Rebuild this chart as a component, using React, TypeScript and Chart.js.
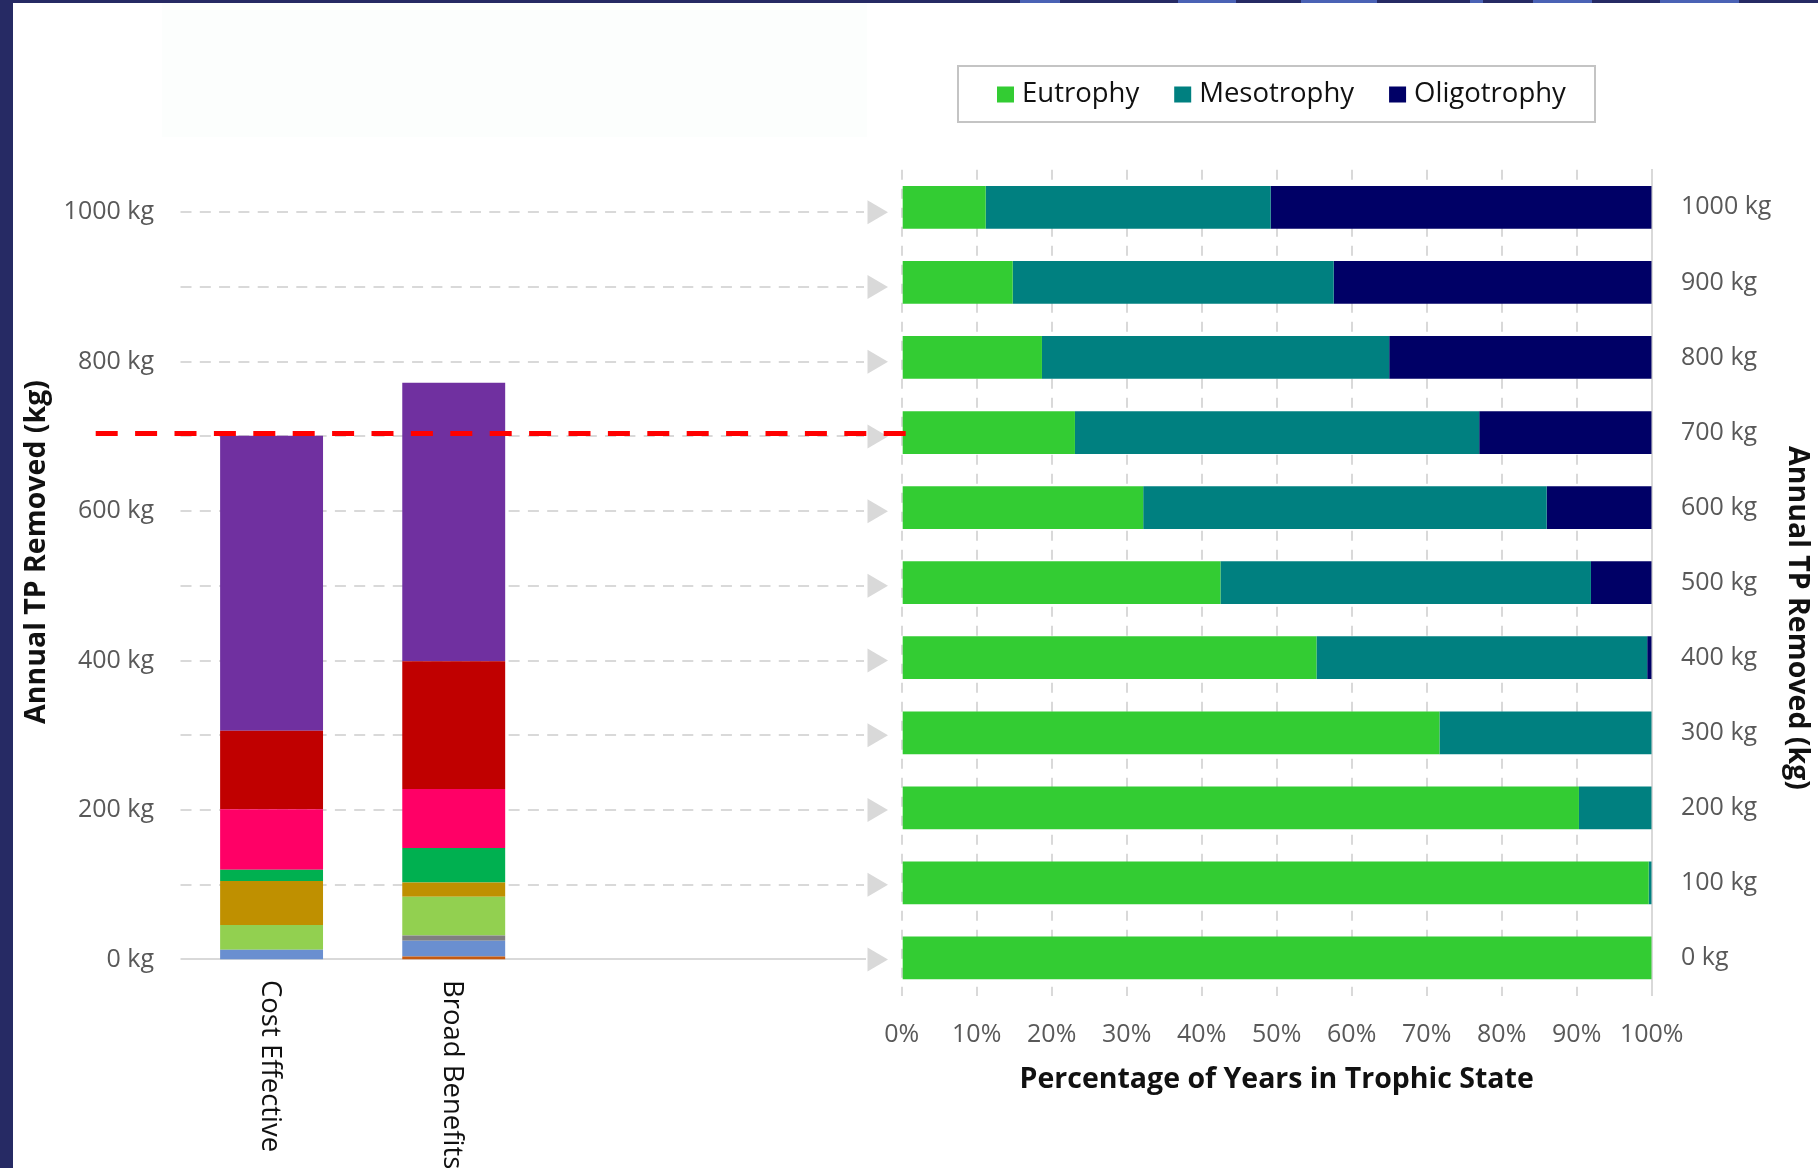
import { useEffect, useRef } from 'react';
import { Chart, registerables } from 'chart.js';

Chart.register(...registerables);

// ---- Left panel: annual TP removed by plan, stacked by component ----
const PLANS = ['Cost Effective', 'Broad Benefits'];
const SEGMENT_NAMES = ['Brown', 'Blue', 'Grey', 'Light green', 'Gold', 'Green', 'Pink', 'Red', 'Purple'];
const SEGMENT_COLORS = ['#C55A11', '#6A8FD0', '#808080', '#92D050', '#BF9000', '#00B050', '#FF0066', '#C00000', '#7030A0'];
const COST_EFFECTIVE = [0, 13, 0, 33, 59, 15, 81, 105, 395];
const BROAD_BENEFITS = [4, 21, 7, 52, 19, 46, 79, 171, 373];
const TARGET_LOAD = 704;
const LOAD_TICKS = [0, 100, 200, 300, 400, 500, 600, 700, 800, 900, 1000];

// ---- Right panel: share of years in each trophic state per removal level ----
const STATES = ['Eutrophy', 'Mesotrophy', 'Oligotrophy'];
const STATE_COLORS = ['#33CC33', '#008080', '#000066'];
const LOAD_LEVELS = [1000, 900, 800, 700, 600, 500, 400, 300, 200, 100, 0];
const EUTROPHY = [11.2, 14.8, 18.7, 23.1, 32.2, 42.5, 55.3, 71.7, 90.3, 99.6, 100];
const MESOTROPHY = [38.0, 42.8, 46.3, 53.9, 53.8, 49.4, 44.1, 28.3, 9.7, 0.4, 0];
const OLIGOTROPHY = [50.8, 42.4, 35.0, 23.0, 14.0, 8.1, 0.6, 0, 0, 0, 0];
const PERCENT_TICKS = [0, 10, 20, 30, 40, 50, 60, 70, 80, 90, 100];

const FONT = "'Open Sans', sans-serif";
const TICK_COLOR = '#595959';
const GRID_COLOR = '#D9D9D9';
const TEXT_COLOR = '#111111';
const TICK_SIZE = 25;
const TITLE_FONT = `bold 28.5px ${FONT}`;

const W = 1818;
const H = 1168;
const LEFT_W = 920;
const RIGHT_X = 880;
const RIGHT_W = W - RIGHT_X;

// left plot geometry
const L_AREA_LEFT = 180.5;
const L_AREA_RIGHT = 544.8;
const L_AREA_TOP = 212.3;
const L_AREA_BOTTOM = 959.4;
const GRID_END = 864;
const ARROW_X0 = 867.5;
const ARROW_X1 = 888;
const ARROW_HALF = 12;
const TARGET_X0 = 95.7;
const TARGET_X1 = 905.7;

// right plot geometry (canvas coordinates)
const R_AREA_LEFT = 901.7 - RIGHT_X;
const R_AREA_RIGHT = 1651.7 - RIGHT_X;
const R_AREA_TOP = 169.8;
const R_AREA_BOTTOM = 995.5;

const leftDecor = {
  id: 'leftDecor',
  beforeDatasetsDraw(chart: any) {
    const { ctx } = chart;
    const y = chart.scales.y;
    ctx.save();
    ctx.strokeStyle = GRID_COLOR;
    ctx.lineWidth = 2;
    LOAD_TICKS.forEach((v) => {
      const py = Math.round(y.getPixelForValue(v));
      ctx.beginPath();
      if (v === 0) {
        ctx.setLineDash([]);
        ctx.moveTo(L_AREA_LEFT, py);
        ctx.lineTo(GRID_END + 2, py);
      } else {
        ctx.setLineDash([11, 8.3]);
        ctx.moveTo(L_AREA_LEFT, py);
        ctx.lineTo(GRID_END, py);
      }
      ctx.stroke();
    });
    ctx.restore();
  },
  afterDraw(chart: any) {
    const { ctx } = chart;
    const x = chart.scales.x;
    const y = chart.scales.y;
    ctx.save();
    // arrowheads pointing to the matching rows on the right
    ctx.fillStyle = GRID_COLOR;
    LOAD_TICKS.forEach((v) => {
      const py = y.getPixelForValue(v);
      ctx.beginPath();
      ctx.moveTo(ARROW_X0, py - ARROW_HALF);
      ctx.lineTo(ARROW_X1, py);
      ctx.lineTo(ARROW_X0, py + ARROW_HALF);
      ctx.closePath();
      ctx.fill();
    });
    // target load line
    const ty = y.getPixelForValue(TARGET_LOAD);
    ctx.strokeStyle = '#FF0000';
    ctx.lineWidth = 5;
    ctx.setLineDash([22, 17.4]);
    ctx.beginPath();
    ctx.moveTo(TARGET_X0, ty);
    ctx.lineTo(TARGET_X1, ty);
    ctx.stroke();
    ctx.setLineDash([]);
    // category labels, rotated to read downward
    ctx.fillStyle = TEXT_COLOR;
    ctx.font = `27.5px ${FONT}`;
    ctx.textAlign = 'left';
    ctx.textBaseline = 'middle';
    PLANS.forEach((label, i) => {
      ctx.save();
      ctx.translate(x.getPixelForValue(i) - 2, 980);
      ctx.rotate(Math.PI / 2);
      ctx.fillText(label, 0, 0);
      ctx.restore();
    });
    // axis title
    ctx.font = TITLE_FONT;
    ctx.textAlign = 'center';
    ctx.save();
    ctx.translate(37, 552);
    ctx.rotate(-Math.PI / 2);
    ctx.fillText('Annual TP Removed (kg)', 0, 0);
    ctx.restore();
    ctx.restore();
  },
};

const rightDecor = {
  id: 'rightDecor',
  afterDraw(chart: any) {
    const { ctx, chartArea } = chart;
    ctx.save();
    // legend
    const bx = 958 - RIGHT_X;
    const by = 66;
    ctx.strokeStyle = '#C4C4C4';
    ctx.lineWidth = 2;
    ctx.strokeRect(bx, by, 637, 56);
    ctx.font = `27.5px ${FONT}`;
    ctx.textBaseline = 'middle';
    ctx.textAlign = 'left';
    let lx = 997 - RIGHT_X;
    const ly = 94.5;
    chart.data.datasets.forEach((ds: any) => {
      ctx.fillStyle = ds.backgroundColor;
      ctx.fillRect(lx, ly - 8, 17, 16);
      ctx.fillStyle = TEXT_COLOR;
      ctx.fillText(ds.label, lx + 25, ly);
      lx += 25 + ctx.measureText(ds.label).width + 35;
    });
    // axis titles
    ctx.fillStyle = TEXT_COLOR;
    ctx.font = TITLE_FONT;
    ctx.textAlign = 'center';
    ctx.fillText('Percentage of Years in Trophic State', (chartArea.left + chartArea.right) / 2, 1080);
    ctx.save();
    ctx.translate(1797 - RIGHT_X, 618);
    ctx.rotate(Math.PI / 2);
    ctx.fillText('Annual TP Removed (kg)', 0, 0);
    ctx.restore();
    ctx.restore();
  },
};

function leftConfig(): any {
  return {
    type: 'bar',
    data: {
      labels: PLANS,
      datasets: SEGMENT_NAMES.map((name, i) => ({
        label: name,
        data: [COST_EFFECTIVE[i], BROAD_BENEFITS[i]],
        backgroundColor: SEGMENT_COLORS[i],
        borderWidth: 0,
        barPercentage: 0.565,
        categoryPercentage: 1,
      })),
    },
    options: {
      responsive: false,
      animation: false,
      events: [],
      layout: { padding: { left: 0, right: LEFT_W - L_AREA_RIGHT, top: L_AREA_TOP, bottom: 0 } },
      plugins: { legend: { display: false }, tooltip: { enabled: false } },
      scales: {
        x: {
          stacked: true,
          grid: { display: false, drawTicks: false },
          border: { display: false },
          ticks: { display: false },
          afterFit: (s: any) => {
            s.height = H - L_AREA_BOTTOM;
            s.paddingLeft = 0;
            s.paddingRight = 0;
          },
        },
        y: {
          stacked: true,
          min: 0,
          max: 1000,
          afterBuildTicks: (s: any) => { s.ticks = LOAD_TICKS.map((v) => ({ value: v })); },
          ticks: {
            padding: 26.5,
            color: TICK_COLOR,
            font: { family: FONT, size: TICK_SIZE },
            callback: (v: number) => (v % 200 === 0 ? `${v} kg` : ''),
          },
          grid: { display: false, drawTicks: false },
          border: { display: false },
          afterFit: (s: any) => { s.width = L_AREA_LEFT; },
        },
      },
    },
    plugins: [leftDecor],
  };
}

function rightConfig(): any {
  const series = [EUTROPHY, MESOTROPHY, OLIGOTROPHY];
  return {
    type: 'bar',
    data: {
      labels: LOAD_LEVELS.map((v) => `${v} kg`),
      datasets: STATES.map((name, i) => ({
        label: name,
        data: series[i],
        backgroundColor: STATE_COLORS[i],
        borderWidth: 0,
        barPercentage: 0.57,
        categoryPercentage: 1,
      })),
    },
    options: {
      indexAxis: 'y',
      responsive: false,
      animation: false,
      events: [],
      layout: { padding: { left: R_AREA_LEFT, right: 0, top: R_AREA_TOP, bottom: 0 } },
      plugins: { legend: { display: false }, tooltip: { enabled: false } },
      scales: {
        x: {
          stacked: true,
          min: 0,
          max: 100,
          afterBuildTicks: (s: any) => { s.ticks = PERCENT_TICKS.map((v) => ({ value: v })); },
          ticks: {
            padding: 24,
            color: TICK_COLOR,
            font: { family: FONT, size: TICK_SIZE },
            maxRotation: 0,
            autoSkip: false,
            callback: (v: number) => `${v}%`,
          },
          grid: { color: GRID_COLOR, lineWidth: 2, drawTicks: false },
          border: { display: false, dash: [10, 9] },
          afterFit: (s: any) => {
            s.height = H - R_AREA_BOTTOM;
            s.paddingLeft = 0;
            s.paddingRight = 0;
          },
        },
        y: {
          stacked: true,
          position: 'right',
          ticks: {
            padding: 29.3,
            color: TICK_COLOR,
            font: { family: FONT, size: TICK_SIZE },
          },
          grid: { display: false, drawTicks: false },
          border: { display: true, color: GRID_COLOR, width: 2 },
          afterFit: (s: any) => {
            s.width = RIGHT_W - R_AREA_RIGHT;
            s.paddingTop = 0;
            s.paddingBottom = 0;
          },
        },
      },
    },
    plugins: [rightDecor],
  };
}

export default function App() {
  const leftRef = useRef<HTMLCanvasElement>(null);
  const rightRef = useRef<HTMLCanvasElement>(null);

  useEffect(() => {
    const right = new Chart(rightRef.current as HTMLCanvasElement, rightConfig());
    const left = new Chart(leftRef.current as HTMLCanvasElement, leftConfig());
    return () => {
      left.destroy();
      right.destroy();
    };
  }, []);

  return (
    <div style={{ position: 'absolute', left: 0, top: 0, width: W, height: H, background: '#FFFFFF', overflow: 'hidden' }}>
      <div style={{ position: 'absolute', left: 162, top: 3, width: 705, height: 134, background: '#FCFEFD' }} />
      <div style={{ position: 'absolute', left: 0, top: 0, width: W, height: 3, background: '#262A64' }} />
      <div
        style={{
          position: 'absolute',
          left: 1000,
          top: 0,
          width: W - 1000,
          height: 3,
          background:
            'linear-gradient(90deg, #262A64 0 20px, #4A62B5 20px 60px, #262A64 60px 178px, #4A62B5 178px 236px, #262A64 236px 301px, #4A62B5 301px 377px, #262A64 377px 470px, #4A62B5 470px 483px, #262A64 483px 533px, #4A62B5 533px 592px, #262A64 592px 660px, #4A62B5 660px 739px, #262A64 739px)',
        }}
      />
      <div style={{ position: 'absolute', left: 0, top: 0, width: 13, height: H, background: '#262A64' }} />
      <canvas
        ref={rightRef}
        width={RIGHT_W}
        height={H}
        style={{ position: 'absolute', left: RIGHT_X, top: 0, width: RIGHT_W, height: H }}
      />
      <canvas
        ref={leftRef}
        width={LEFT_W}
        height={H}
        style={{ position: 'absolute', left: 0, top: 0, width: LEFT_W, height: H }}
      />
    </div>
  );
}
